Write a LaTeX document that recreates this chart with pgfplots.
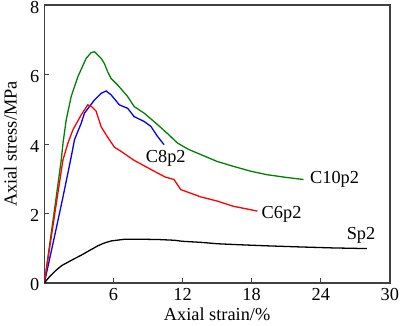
\documentclass[border=0pt]{standalone}
\usepackage{fontspec}
\setmainfont{Liberation Serif}
\usepackage{pgfplots}
\pgfplotsset{compat=1.18}
\definecolor{cgreen}{RGB}{0,128,0}
\begin{document}
\fontsize{18.4}{21}\selectfont
\begin{tikzpicture}
\begin{axis}[
  scale only axis, width=347pt, height=279pt,
  xmin=0, xmax=30, ymin=0, ymax=8,
  xtick={6,12,18,24,30}, ytick={0,2,4,6,8},
  xticklabels={6,12,18,24,30}, yticklabels={0,2,4,6,8},
  xtick pos=bottom, ytick pos=left,
  tick align=inside, major tick length=5pt,
  axis line style={black!75, line width=1.5pt},
  every tick/.style={black!75, line width=1pt},
  ticklabel style={font=\fontsize{18.4}{21}\selectfont, inner sep=0pt},
  xticklabel style={yshift=-5.5pt},
  yticklabel style={xshift=-5pt, yshift=-2pt},
  label style={font=\fontsize{18.4}{21}\selectfont, inner sep=0pt},
  xlabel={Axial strain/\%}, ylabel={Axial stress/MPa},
  xlabel style={yshift=-7pt}, ylabel style={yshift=13pt},
  every axis plot/.append style={line width=1.3pt, mark=none},
]
% C10p2
\addplot[cgreen] coordinates {(0,0)(0.5,1.2)(1.0,2.4)(1.47,3.55)(1.62,4.03)(1.9,4.7)(2.33,5.37)(2.91,5.94)(3.63,6.47)(4.05,6.63)(4.35,6.66)(4.6,6.58)(4.93,6.47)(5.21,6.32)(5.5,6.08)(5.79,5.89)(6.37,5.7)(7.23,5.37)(7.8,5.08)(8.67,4.89)(9.83,4.56)(10.7,4.3)(11.56,4.03)(12.5,3.85)(13.57,3.70)(15,3.5)(16.4,3.36)(17.9,3.22)(19.3,3.12)(21,3.04)(22.5,2.98)};
% C8p2
\addplot[blue] coordinates {(0,0)(0.5,0.76)(1.0,1.52)(1.6,2.45)(2.19,3.4)(2.4,3.75)(2.62,4.13)(3.2,4.6)(3.48,4.89)(4.35,5.27)(4.93,5.46)(5.36,5.53)(5.79,5.42)(6.51,5.13)(7.23,5.03)(7.8,4.79)(8.67,4.65)(9.25,4.51)(9.83,4.22)(10.4,3.98)};
% C6p2
\addplot[red] coordinates {(0,0)(0.5,1.1)(1.0,2.2)(1.62,3.55)(2.05,4.03)(2.48,4.41)(3.2,4.84)(3.77,5.13)(4.1,5.08)(4.49,4.95)(4.93,4.5)(5.36,4.27)(6.08,3.91)(6.66,3.79)(7.8,3.53)(9.25,3.27)(10.5,3.05)(11.26,2.98)(11.84,2.69)(13.57,2.48)(15.0,2.36)(16.4,2.21)(17.3,2.15)(18.5,2.07)};
% Sp2
\addplot[black] coordinates {(0,0)(0.5,0.2)(1.0,0.36)(1.5,0.5)(2.5,0.68)(3.2,0.8)(4,0.95)(4.64,1.07)(5.2,1.15)(5.79,1.21)(6.5,1.24)(7,1.26)(8.4,1.26)(10,1.25)(11.3,1.23)(12,1.2)(13.6,1.17)(15,1.13)(17,1.1)(19.3,1.07)(22,1.04)(25,1.01)(28,0.99)};
\node at (axis cs:10.54,3.6) {C8p2};
\node at (axis cs:25.2,2.97) {C10p2};
\node at (axis cs:20.6,1.98) {C6p2};
\node at (axis cs:27.5,1.36) {Sp2};
\end{axis}
\path ([shift={(-4pt,-4pt)}]current bounding box.south west) ([shift={(1pt,1pt)}]current bounding box.north east);
\end{tikzpicture}
\end{document}
